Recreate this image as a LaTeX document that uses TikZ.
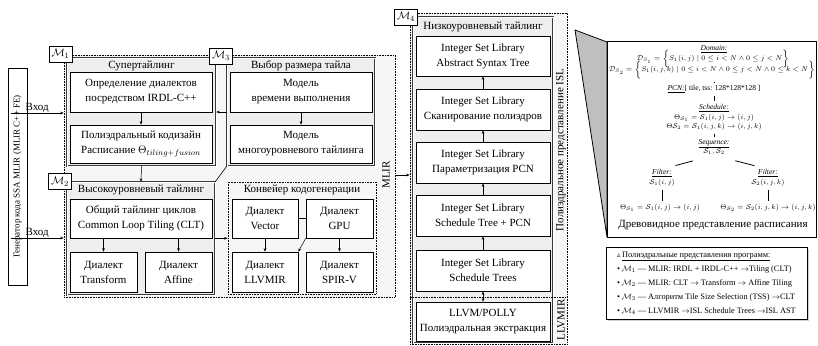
\documentclass[tikz,border=0pt]{standalone}
\usepackage{fontspec}
\setmainfont{Liberation Serif}
\newfontfamily\dejavu{DejaVu Sans}
\usetikzlibrary{arrows.meta,shadows}
\begin{document}
\begin{tikzpicture}[x=1pt,y=-1pt,
  every node/.style={font=\fontsize{11}{15}\selectfont, inner sep=0pt},
  region/.style={draw=black, densely dotted, line width=0.6pt, fill=gray!7},
  frame/.style={draw=gray!45!black, double=white, double distance=0.9pt, line width=0.45pt, fill=gray!13},
  box/.style={draw=black, line width=0.6pt, fill=white, align=center},
  lab/.style={draw=black, line width=0.8pt, fill=white, minimum width=23pt, minimum height=16pt},
  arr/.style={-{Stealth[length=3.5pt,width=2.6pt]}, line width=0.5pt},
  darr/.style={{Stealth[length=3.5pt,width=2.6pt]}-{Stealth[length=3.5pt,width=2.6pt]}, line width=0.5pt},
  pf/.style={font=\fontsize{7.5}{9}\selectfont},
  bar/.style={line width=1pt, shorten <=3pt, shorten >=3pt}
]
\useasboundingbox (0,0) rectangle (818,345);
\fill[white] (0,0) rectangle (818,345);

% regions
\node[region, minimum width=331pt, minimum height=242pt] (mlir) at (229.5,176) {};
\node[region, minimum width=157pt, minimum height=331pt] (m4reg) at (488.5,178.5) {};

% generator box
\node[box, rotate=90, minimum width=217pt, minimum height=19pt, font=\fontsize{9}{11}\selectfont] (gen) at (17.5,176.5) {Генератор кода SSA MLIR (MLIR C++ FE)};

% Supertiling frame
\node[frame, minimum width=149pt, minimum height=108pt] (sup) at (141.5,112) {};
\node (tsup) at (141.5,66) {Супертайлинг};
\node[box, minimum width=142pt, minimum height=40pt] (sbox1) at (141,92) {Определение диалектов\\посредством IRDL-C++};
\node[box, minimum width=142pt, minimum height=38pt] (sbox2) at (141,144) {Полиэдральный кодизайн\\Расписание $\Theta_{tiling+fusion}$};

% M3 frame
\node[frame, minimum width=148pt, minimum height=108pt] (m3f) at (301,112) {};
\node (tm3) at (301,66) {Выбор размера тайла};
\node[box, minimum width=142pt, minimum height=40pt] (tbox1) at (301,92) {Модель\\времени выполнения};
\node[box, minimum width=142pt, minimum height=38pt] (tbox2) at (301,144) {Модель\\многоуровневого тайлинга};

% M2 frame
\node[frame, minimum width=148pt, minimum height=113pt] (m2f) at (141,238.5) {};
\node (tm2) at (141,190) {Высокоуровневый тайлинг};
\node[box, minimum width=142pt, minimum height=39pt] (clt) at (141,218.5) {Общий тайлинг циклов\\Common Loop Tiling (CLT)};
\node[box, minimum width=67pt, minimum height=40pt] (trf) at (103.5,272) {Диалект\\Transform};
\node[box, minimum width=67pt, minimum height=40pt] (aff) at (178.5,272) {Диалект\\Affine};

% pipeline
\node[region, minimum width=148pt, minimum height=112pt] (pipe) at (302,238) {};
\node (tpipe) at (302,190) {Конвейер кодогенерации};
\node[box, minimum width=66pt, minimum height=39pt] (vec) at (265,218.5) {Диалект\\Vector};
\node[box, minimum width=67pt, minimum height=39pt] (gpu) at (339.5,218.5) {Диалект\\GPU};
\node[box, minimum width=66pt, minimum height=40pt] (llv) at (265,272) {Диалект\\LLVMIR};
\node[box, minimum width=67pt, minimum height=40pt] (spv) at (339.5,272) {Диалект\\SPIR-V};

% M4 frame
\node[frame, minimum width=140pt, minimum height=326pt] (m4f) at (483,180) {};
\node (tm4) at (483,27) {Низкоуровневый тайлинг};
\node[box, minimum width=134pt, minimum height=40pt] (i1) at (483,56) {Integer Set Library\\Abstract Syntax Tree};
\node[box, minimum width=134pt, minimum height=41pt] (i2) at (483,109.5) {Integer Set Library\\Сканирование полиэдров};
\node[box, minimum width=134pt, minimum height=41pt] (i3) at (483,162.5) {Integer Set Library\\Параметризация PCN};
\node[box, minimum width=134pt, minimum height=41pt] (i4) at (483,215.5) {Integer Set Library\\Schedule Tree + PCN};
\node[box, minimum width=134pt, minimum height=41pt] (i5) at (483,270.5) {Integer Set Library\\Schedule Trees};
\node[box, minimum width=134pt, minimum height=39pt] (llvm) at (483,321.5) {LLVM/POLLY\\Полиэдральная экстракция};
\coordinate (sep) at (0,297);
\draw[densely dotted, line width=0.6pt] (sep -| m4reg.west) -- (sep -| m4reg.east);

% rotated labels
\node[rotate=90] (mlirlab) at (386,175) {MLIR};
\node[rotate=90] (isllab) at (561,150) {Полиэдральное представление ISL};
\node[rotate=90] (llvmlab) at (561,320) {LLVMIR};

% connectors
\coordinate (v1) at (0,113);
\coordinate (v2) at (0,238);
\draw[arr] ([xshift=3pt]v1 -| gen.north) -- (v1 -| mlir.west) node[midway, above=0.5pt] (vh1) {Вход};
\draw[arr] ([xshift=3pt]v2 -| gen.north) -- (v2 -| mlir.west) node[midway, above=0.5pt] (vh2) {Вход};
\draw[arr] (sbox1) -- (sbox2);
\draw[arr] (sup.south) -- (m2f.north);
\draw[arr] (tbox1) -- (tbox2);
\coordinate (y112) at (0,112);
\draw[arr] (y112 -| m3f.west) -- (y112 -| sup.east);
\draw[line width=0.6pt] (m3f.south west) -- (m2f.north east);
\draw[arr] (clt.south -| trf.north) -- (trf.north);
\draw[arr] (clt.south -| aff.north) -- (aff.north);
\draw[arr] (m2f.east |- clt.south) -- (pipe.west |- clt.south);
\draw[arr] (vec) -- (llv);
\draw[arr] (gpu) -- (spv);
\draw[line width=0.6pt] (vec.east) -- (gpu.west);
\draw[arr] (gpu.south west) -- (llv.north east);
\coordinate (y175) at (0,175);
\draw[arr] (y175 -| mlir.east) -- (y175 -| m4reg.west);
\draw[arr] (i5) -- (i4);
\draw[arr] (i4) -- (i3);
\draw[arr] (i3) -- (i2);
\draw[arr] (i2) -- (i1);
\draw[darr] (i5) -- (llvm);

% module labels
\node[lab] (lm1) at (60.5,54) {$\mathcal{M}_1$};
\node[lab] (lm2) at (60,181.5) {$\mathcal{M}_2$};
\node[lab] (lm3) at (221,56) {$\mathcal{M}_3$};
\node[lab] (lm4) at (406,17) {$\mathcal{M}_4$};

% right panel
\filldraw[fill=gray!50, draw=black, line width=0.8pt, line join=round] (575,30) -- (607,42) -- (607,237) -- cycle;
\node[draw=black, line width=1pt, fill=white, minimum width=209pt, minimum height=195pt] (panel) at (711.5,139.5) {};
\node[pf] (dom) at (714,49.5) {\underline{\textit{Domain:}}};
\node[pf] (ds1) at (713,59) {$\mathcal{D}_{S_1}=\bigl\{S_1(i,j)\mid 0\le i<N\wedge 0\le j<N\bigr\}$};
\node[pf] (ds2) at (712,70) {$\mathcal{D}_{S_2}=\bigl\{S_1(i,j,k)\mid 0\le i<N\wedge 0\le j<N\wedge 0\le k<N\bigr\}$};
\node[pf] (pcn) at (714,89) {\underline{\textit{PCN:}}[ tile, tss: 128*128*128 ]};
\node[pf] (sch) at (714,108) {\underline{\textit{Schedule:}}};
\node[pf] (th1) at (714,118) {$\Theta_{\mathcal{S}_1}=\mathcal{S}_1(i,j)\rightarrow(i,j)$};
\node[pf] (th2) at (714,127) {$\Theta\mathcal{S}_2=\mathcal{S}_1(i,j,k)\rightarrow(i,j,k)$};
\node[pf] (seq) at (714,144) {\underline{\textit{Sequence:}}};
\node[pf] (seqs) at (714,152) {$\mathcal{S}_1,\mathcal{S}_2$};
\node[pf] (fl1) at (662,173) {\underline{\textit{Filter:}}};
\node[pf] (fs1) at (662,183) {$\mathcal{S}_1(i,j)$};
\node[pf] (fl2) at (768,173) {\underline{\textit{Filter:}}};
\node[pf] (fs2) at (768,183) {$\mathcal{S}_2(i,j,k)$};
\node[pf] (tl1) at (660,208) {$\Theta_{\mathcal{S}_1}=\mathcal{S}_1(i,j)\rightarrow(i,j)$};
\node[pf] (tl2) at (768,208) {$\Theta_{\mathcal{S}_2}=\mathcal{S}_2(i,j,k)\rightarrow(i,j,k)$};
\node (tree) at (713,225) {Древовидное представление расписания};
\draw[bar] (pcn.north |- ds2.south) -- (pcn.north);
\draw[bar] (pcn.south) -- (sch.north);
\draw[bar] (th2.south) -- (seq.north);
\draw[line width=0.8pt, shorten <=22pt, shorten >=14pt] (seqs.south) -- (fl1.north);
\draw[line width=0.8pt, shorten <=22pt, shorten >=14pt] (seqs.south) -- (fl2.north);
\draw[bar] (fs1.south) -- (fs1.south |- tl1.north);
\draw[bar] (fs2.south) -- (fs2.south |- tl2.north);

% legend
\node[draw=black, line width=0.6pt, fill=white, drop shadow={shadow xshift=1.5pt, shadow yshift=-1.5pt, fill=gray!70},
      minimum width=201pt, minimum height=72pt, align=left, inner sep=2pt,
      font=\fontsize{8.3}{14}\selectfont] (legend) at (706.5,283)
 {{\dejavu\fontsize{7}{8}\selectfont ▵}\,\underline{Полиэдральные представления программ:}\\
  •\,$\mathcal{M}_1$ — MLIR: IRDL + IRDL-C++ $\to$Tiling (CLT)\\
  •\,$\mathcal{M}_2$ — MLIR: CLT $\to$ Transform $\to$ Affine Tiling\\
  •\,$\mathcal{M}_3$ — Алгоритм Tile Size Selection (TSS) $\to$CLT\\
  •\,$\mathcal{M}_4$ — LLVMIR $\to$ISL Schedule Trees $\to$ISL AST};
\end{tikzpicture}
\end{document}
